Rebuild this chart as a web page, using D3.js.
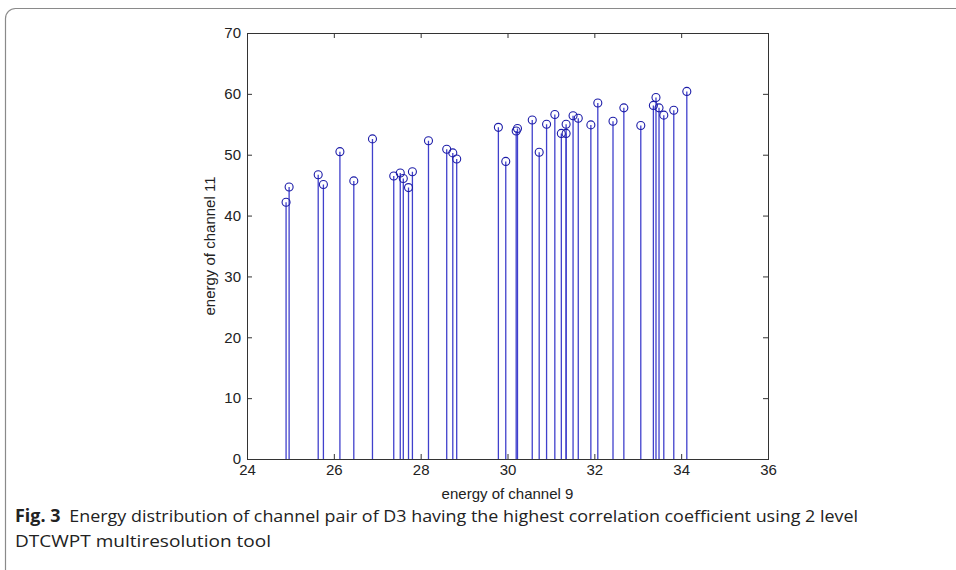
<!DOCTYPE html>
<meta charset="utf-8">
<script src="https://d3js.org/d3.v7.min.js"></script>
<style>
  body { margin: 0; background: #fff; }
  text { font-family: "Liberation Sans", Arial, sans-serif; }
</style>
<body>
<div id="my_dataviz"></div>
<script>

// energy of channel 9 (x) and energy of channel 11 (y)
var ch9 = [24.90, 24.97, 25.64, 25.76, 26.14, 26.46, 26.89, 27.38, 27.53, 27.60,
           27.72, 27.81, 28.18, 28.60, 28.74, 28.83, 29.79, 29.96, 30.20, 30.23,
           30.57, 30.73, 30.90, 31.09, 31.24, 31.35, 31.35, 31.51, 31.63, 31.92,
           32.08, 32.43, 32.68, 33.07, 33.36, 33.42, 33.49, 33.60, 33.83, 34.13];
var ch11 = [42.2, 44.7, 46.7, 45.1, 50.5, 45.7, 52.6, 46.5, 47.0, 46.1,
            44.6, 47.2, 52.3, 50.9, 50.3, 49.3, 54.5, 48.9, 53.9, 54.3,
            55.7, 50.4, 55.0, 56.6, 53.5, 53.5, 55.0, 56.4, 56.0, 54.9,
            58.5, 55.5, 57.7, 54.8, 58.1, 59.4, 57.7, 56.5, 57.3, 60.4];
var xTicks = [24, 26, 28, 30, 32, 34, 36];
var yTicks = [0, 10, 20, 30, 40, 50, 60, 70];

var data = ch9.map(function (d, i) { return { x: d, y: ch11[i] }; });

var W = 956, H = 570;
var margin = { top: 33, right: 188, bottom: 111, left: 247 },
    width = W - margin.left - margin.right,
    height = H - margin.top - margin.bottom;

var root = d3.select("#my_dataviz")
    .append("svg")
    .attr("width", W)
    .attr("height", H);

// rounded frame of the figure box
root.append("rect")
    .attr("x", 5.5).attr("y", 8.5)
    .attr("width", 1000).attr("height", 600)
    .attr("rx", 10)
    .attr("fill", "none")
    .attr("stroke", "#8a8a8a")
    .attr("stroke-width", 1.2);

var svg = root.append("g")
    .attr("transform", "translate(" + margin.left + "," + margin.top + ")");

var x = d3.scaleLinear().domain([24, 36]).range([0, width]);
var y = d3.scaleLinear().domain([0, 70]).range([height, 0]);

// white plot box
svg.append("rect")
    .attr("width", width).attr("height", height)
    .attr("fill", "#fff");

// stems
svg.append("g")
    .selectAll("line")
    .data(data)
    .enter()
    .append("line")
    .attr("x1", function (d) { return x(d.x); })
    .attr("x2", function (d) { return x(d.x); })
    .attr("y1", y(0))
    .attr("y2", function (d) { return y(d.y); })
    .attr("stroke", "#4040cc")
    .attr("stroke-width", 1.3);

// markers
svg.append("g")
    .selectAll("circle")
    .data(data)
    .enter()
    .append("circle")
    .attr("cx", function (d) { return x(d.x); })
    .attr("cy", function (d) { return y(d.y); })
    .attr("r", 4)
    .attr("fill", "none")
    .attr("stroke", "#1c1ca8")
    .attr("stroke-width", 1.1);

// axes (MATLAB style: ticks inside, box on)
var axCol = "#333";
svg.append("g")
    .attr("transform", "translate(0," + height + ")")
    .call(d3.axisBottom(x).tickValues(xTicks).tickSize(-5).tickPadding(8))
    .call(function (g) {
        g.select(".domain").remove();
        g.selectAll("line").attr("stroke", axCol);
        g.selectAll("text").attr("font-size", "15px").attr("fill", "#222").attr("dy", "0.55em");
    });
svg.append("g")
    .call(d3.axisTop(x).tickValues(xTicks).tickSize(-5).tickFormat(""))
    .call(function (g) { g.select(".domain").remove(); g.selectAll("line").attr("stroke", axCol); });
svg.append("g")
    .call(d3.axisLeft(y).tickValues(yTicks).tickSize(-5).tickPadding(6))
    .call(function (g) {
        g.select(".domain").remove();
        g.selectAll("line").attr("stroke", axCol);
        g.selectAll("text").attr("font-size", "15px").attr("fill", "#222");
    });
svg.append("g")
    .attr("transform", "translate(" + width + ",0)")
    .call(d3.axisRight(y).tickValues(yTicks).tickSize(-5).tickFormat(""))
    .call(function (g) { g.select(".domain").remove(); g.selectAll("line").attr("stroke", axCol); });

svg.append("rect")
    .attr("x", 0.5).attr("y", 0.5)
    .attr("width", width).attr("height", height)
    .attr("fill", "none")
    .attr("stroke", axCol)
    .attr("stroke-width", 1);

// axis labels
svg.append("text")
    .attr("text-anchor", "middle")
    .attr("x", width / 2)
    .attr("y", height + 40)
    .attr("font-size", "15px")
    .attr("fill", "#222")
    .text("energy of channel 9");

svg.append("text")
    .attr("text-anchor", "middle")
    .attr("transform", "rotate(-90)")
    .attr("x", -height / 2)
    .attr("y", -32)
    .attr("font-size", "15px")
    .attr("fill", "#222")
    .text("energy of channel 11");

// caption
var cap = root.append("text")
    .attr("x", 15)
    .attr("y", 522)
    .attr("font-size", "17px")
    .attr("fill", "#222")
    .style("font-family", "'Open Sans', sans-serif")
    .attr("textLength", 843)
    .attr("lengthAdjust", "spacingAndGlyphs");
cap.append("tspan").attr("font-weight", "bold").text("Fig. 3");
cap.append("tspan").text("\u2002Energy distribution of channel pair of D3 having the highest correlation coefficient using 2 level");

root.append("text")
    .attr("x", 15)
    .attr("y", 547)
    .attr("font-size", "17px")
    .attr("fill", "#222")
    .style("font-family", "'Open Sans', sans-serif")
    .attr("textLength", 256)
    .attr("lengthAdjust", "spacingAndGlyphs")
    .text("DTCWPT multiresolution tool");

</script>
</body>
